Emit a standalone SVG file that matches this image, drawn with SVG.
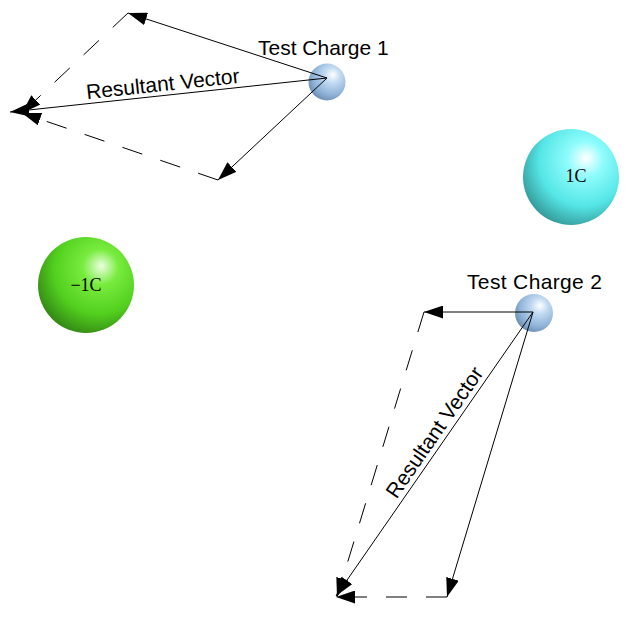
<svg xmlns="http://www.w3.org/2000/svg" width="630" height="619" viewBox="0 0 630 619">
<style>
.lbl{font-family:"Liberation Sans",Arial,sans-serif;font-size:21px;fill:#000}
.chg{font-family:"Liberation Serif","Times New Roman",serif;font-size:18px;fill:#000;text-anchor:middle}
.vec{stroke:#000;stroke-width:1;fill:none;marker-end:url(#ah)}
.dasharr{stroke:#000;stroke-width:1;fill:none;stroke-dasharray:21 19;marker-end:url(#ah)}
</style>
<defs>
<marker id="ah" markerWidth="20" markerHeight="13" refX="19" refY="6.5" orient="auto" markerUnits="userSpaceOnUse">
<path d="M0,0 L19,6.5 L0,13 Z" fill="#000"/>
</marker>
<radialGradient id="gTest" cx="0.62" cy="0.36" r="0.75" fx="0.66" fy="0.3">
<stop offset="0" stop-color="#ffffff"/>
<stop offset="0.28" stop-color="#c2dbf2"/>
<stop offset="0.68" stop-color="#8fb3d8"/>
<stop offset="1" stop-color="#5f80a4"/>
</radialGradient>
<radialGradient id="gGreen" cx="0.62" cy="0.36" r="0.75" fx="0.66" fy="0.3">
<stop offset="0" stop-color="#eaffe0"/>
<stop offset="0.25" stop-color="#78ec3e"/>
<stop offset="0.62" stop-color="#52d01e"/>
<stop offset="1" stop-color="#2c7412"/>
</radialGradient>
<radialGradient id="gCyan" cx="0.62" cy="0.36" r="0.75" fx="0.66" fy="0.3">
<stop offset="0" stop-color="#ffffff"/>
<stop offset="0.25" stop-color="#8ffcfc"/>
<stop offset="0.62" stop-color="#55e6e6"/>
<stop offset="1" stop-color="#2c8686"/>
</radialGradient>
</defs>
<rect width="630" height="619" fill="#fff"/>

<g id="charge-neg">
<circle cx="86" cy="285" r="48" fill="url(#gGreen)"/>
<text class="chg" x="86" y="291">−1C</text>
</g>
<g id="charge-pos">
<circle cx="571" cy="177" r="48" fill="url(#gCyan)"/>
<text class="chg" x="576" y="182">1C</text>
</g>
<g id="test1">
<circle cx="327" cy="82" r="18.5" fill="url(#gTest)"/>
<text class="lbl" x="258" y="55">Test Charge 1</text>
</g>
<g id="test2">
<circle cx="534" cy="313" r="19" fill="url(#gTest)"/>
<text class="lbl" x="467" y="289" textLength="135">Test Charge 2</text>
</g>

<g id="connectors">
<line class="vec" x1="327" y1="78" x2="128" y2="13"/>
<line class="vec" x1="327" y1="78" x2="218" y2="180"/>
<line class="dasharr" x1="128" y1="13" x2="22" y2="113"/>
<line class="dasharr" x1="218" y1="180" x2="22" y2="113"/>
<line class="vec" x1="327" y1="78" x2="10" y2="112"/>
<text class="lbl" x="163.5" y="91" text-anchor="middle" transform="rotate(-6.12 163.5 91)">Resultant Vector</text>

<line class="vec" x1="533" y1="312" x2="424" y2="312"/>
<line class="vec" x1="533" y1="312" x2="447" y2="597"/>
<line class="dasharr" x1="424" y1="312" x2="337" y2="597"/>
<line class="dasharr" x1="447" y1="597" x2="336" y2="597"/>
<line class="vec" x1="533" y1="312" x2="336" y2="596"/>
<text class="lbl" x="440.4" y="436.4" text-anchor="middle" transform="rotate(-55.3 440.4 436.4)">Resultant Vector</text>
</g>
</svg>
